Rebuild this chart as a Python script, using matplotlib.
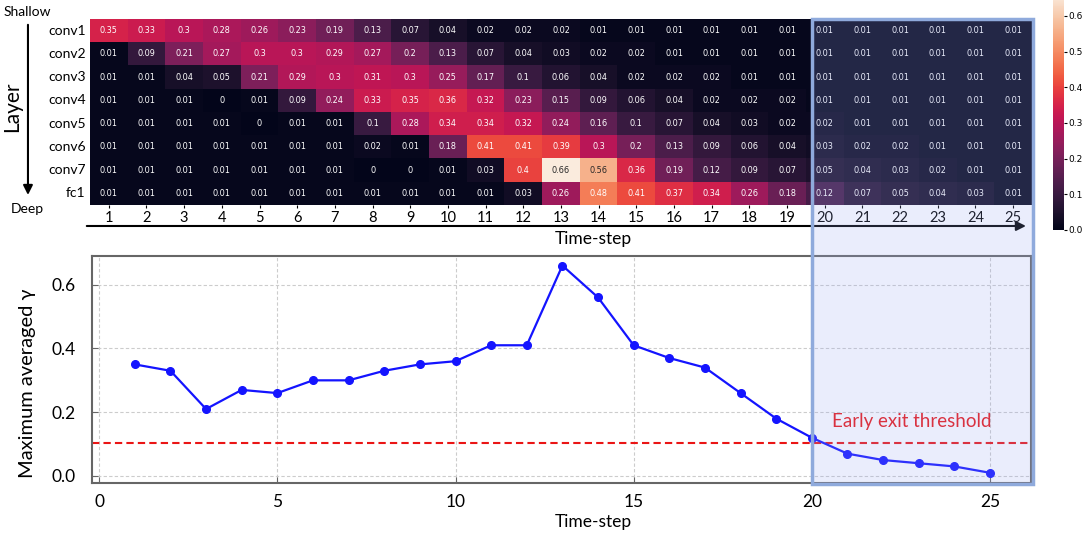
import numpy as np
import matplotlib
matplotlib.use('Agg')
import matplotlib.pyplot as plt
import seaborn as sns
from matplotlib.patches import Rectangle, FancyArrowPatch

plt.rcParams['font.family'] = ['Lato', 'DejaVu Sans']

# ---------------------------------------------------------------------------
# Data
# ---------------------------------------------------------------------------
LAYERS = ['conv1', 'conv2', 'conv3', 'conv4', 'conv5', 'conv6', 'conv7', 'fc1']
TIME_STEPS = list(range(1, 26))

CONV1 = [0.35, 0.33, 0.3, 0.28, 0.26, 0.23, 0.19, 0.13, 0.07, 0.04, 0.02, 0.02, 0.02,
         0.01, 0.01, 0.01, 0.01, 0.01, 0.01, 0.01, 0.01, 0.01, 0.01, 0.01, 0.01]
CONV2 = [0.01, 0.09, 0.21, 0.27, 0.3, 0.3, 0.29, 0.27, 0.2, 0.13, 0.07, 0.04, 0.03,
         0.02, 0.02, 0.01, 0.01, 0.01, 0.01, 0.01, 0.01, 0.01, 0.01, 0.01, 0.01]
CONV3 = [0.01, 0.01, 0.04, 0.05, 0.21, 0.29, 0.3, 0.31, 0.3, 0.25, 0.17, 0.1, 0.06,
         0.04, 0.02, 0.02, 0.02, 0.01, 0.01, 0.01, 0.01, 0.01, 0.01, 0.01, 0.01]
CONV4 = [0.01, 0.01, 0.01, 0, 0.01, 0.09, 0.24, 0.33, 0.35, 0.36, 0.32, 0.23, 0.15,
         0.09, 0.06, 0.04, 0.02, 0.02, 0.02, 0.01, 0.01, 0.01, 0.01, 0.01, 0.01]
CONV5 = [0.01, 0.01, 0.01, 0.01, 0, 0.01, 0.01, 0.1, 0.28, 0.34, 0.34, 0.32, 0.24,
         0.16, 0.1, 0.07, 0.04, 0.03, 0.02, 0.02, 0.01, 0.01, 0.01, 0.01, 0.01]
CONV6 = [0.01, 0.01, 0.01, 0.01, 0.01, 0.01, 0.01, 0.02, 0.01, 0.18, 0.41, 0.41, 0.39,
         0.3, 0.2, 0.13, 0.09, 0.06, 0.04, 0.03, 0.02, 0.02, 0.01, 0.01, 0.01]
CONV7 = [0.01, 0.01, 0.01, 0.01, 0.01, 0.01, 0.01, 0, 0, 0.01, 0.03, 0.4, 0.66,
         0.56, 0.36, 0.19, 0.12, 0.09, 0.07, 0.05, 0.04, 0.03, 0.02, 0.01, 0.01]
FC1 = [0.01, 0.01, 0.01, 0.01, 0.01, 0.01, 0.01, 0.01, 0.01, 0.01, 0.01, 0.03, 0.26,
       0.48, 0.41, 0.37, 0.34, 0.26, 0.18, 0.12, 0.07, 0.05, 0.04, 0.03, 0.01]

MAX_GAMMA = [0.35, 0.33, 0.21, 0.27, 0.26, 0.30, 0.30, 0.33, 0.35, 0.36, 0.41, 0.41, 0.66,
             0.56, 0.41, 0.37, 0.34, 0.26, 0.18, 0.12, 0.07, 0.05, 0.04, 0.03, 0.01]

EXIT_THRESHOLD = 0.104
EXIT_STEP = 20

BOX_EDGE = '#8faadc'
BOX_FILL = (0.6, 0.66, 0.95)
RED = '#ea1515'

# ---------------------------------------------------------------------------
# Figure
# ---------------------------------------------------------------------------
fig = plt.figure(figsize=(10.84, 5.33), dpi=100)
ax_hm = fig.add_axes([0.0830, 0.6154, 0.8690, 0.3490])
ax_cb = fig.add_axes([0.9714, 0.5685, 0.0101, 0.4418])
ax = fig.add_axes([0.0849, 0.0938, 0.8662, 0.4259])

# heatmap
gamma = np.array([CONV1, CONV2, CONV3, CONV4, CONV5, CONV6, CONV7, FC1])
sns.heatmap(gamma, ax=ax_hm, cbar_ax=ax_cb, cmap='rocket', vmin=0, vmax=0.66,
            annot=True, fmt='g',
            annot_kws={'fontsize': 5.9, 'family': 'DejaVu Sans'},
            xticklabels=TIME_STEPS, yticklabels=LAYERS)
ax_hm.set_yticklabels(LAYERS, rotation=0)
ax_hm.tick_params(axis='x', labelsize=10.5, length=2, pad=2)
ax_hm.tick_params(axis='y', labelsize=10, length=0, pad=3)
ax_hm.set_xlabel('Time-step', fontsize=12.5)
ax_hm.xaxis.set_label_coords(0.534, -0.183)
ax_hm.xaxis.label.set_va('center')

ax_cb.tick_params(labelsize=6.5, length=2, pad=1)
for lbl in ax_cb.get_yticklabels():
    lbl.set_family('DejaVu Sans')

# line plot
ax.plot(TIME_STEPS, MAX_GAMMA, color='#1414ff', lw=1.6, marker='o', ms=5.5, zorder=3)
ax.axhline(EXIT_THRESHOLD, color=RED, lw=1.5, ls=(0, (3.5, 2)), zorder=2)
ax.text(22.8, 0.17, 'Early exit threshold', color=RED, fontsize=13.5,
        ha='center', va='center')
ax.set_xlim(-0.2, 26.15)
ax.set_ylim(-0.022, 0.69)
ax.set_xticks([0, 5, 10, 15, 20, 25])
ax.set_yticks([0.0, 0.2, 0.4, 0.6])
ax.set_yticklabels(['0.0', '0.2', '0.4', '0.6'])
ax.grid(True, ls=(0, (3, 2)), color='#cccccc', lw=0.8)
ax.tick_params(direction='in', labelsize=12.5, color='#666666', length=4)
ax.tick_params(axis='y', pad=12)
ax.tick_params(axis='x', pad=8)
for sp in ax.spines.values():
    sp.set_color('#666666')
    sp.set_linewidth(1.5)
ax.set_xlabel('Time-step', fontsize=12.5)
ax.xaxis.set_label_coords(0.534, -0.172)
ax.xaxis.label.set_va('center')
ax.set_ylabel('Maximum averaged γ', fontsize=14.5)
ax.yaxis.set_label_coords(-0.069, 0.44)
ax.yaxis.label.set_va('center')

# early exit box spanning both panels
inv = fig.transFigure.inverted()
x_left = inv.transform(ax.transData.transform((EXIT_STEP, 0)))[0]
x_right = ax_hm.get_position().x1 + 0.001
y_top = ax_hm.get_position().y1
y_bot = ax.get_position().y0 - 0.002
fig.add_artist(Rectangle((x_left, y_bot), x_right - x_left, y_top - y_bot,
                         transform=fig.transFigure, facecolor=BOX_FILL, alpha=0.2,
                         edgecolor='none', zorder=5))
fig.add_artist(Rectangle((x_left, y_bot), x_right - x_left, y_top - y_bot,
                         transform=fig.transFigure, fill=False,
                         edgecolor=BOX_EDGE, lw=2.5, zorder=6))

# time arrow under the heatmap
fig.add_artist(FancyArrowPatch((0.0775, 0.576), (0.949, 0.576),
                               transform=fig.transFigure, arrowstyle='-|>',
                               mutation_scale=14, lw=1.5, color='black'))

# layer arrow on the left
fig.add_artist(FancyArrowPatch((0.0258, 0.9587), (0.0258, 0.6290),
                               transform=fig.transFigure, arrowstyle='-|>',
                               mutation_scale=14, lw=1.5, color='black'))
fig.text(0.0249, 0.9775, 'Shallow', fontsize=10, ha='center', va='center')
fig.text(0.0249, 0.608, 'Deep', fontsize=10, ha='center', va='center')
fig.text(0.011, 0.799, 'Layer', fontsize=15, rotation=90, ha='center', va='center')

fig.savefig('out.png', dpi=100)
